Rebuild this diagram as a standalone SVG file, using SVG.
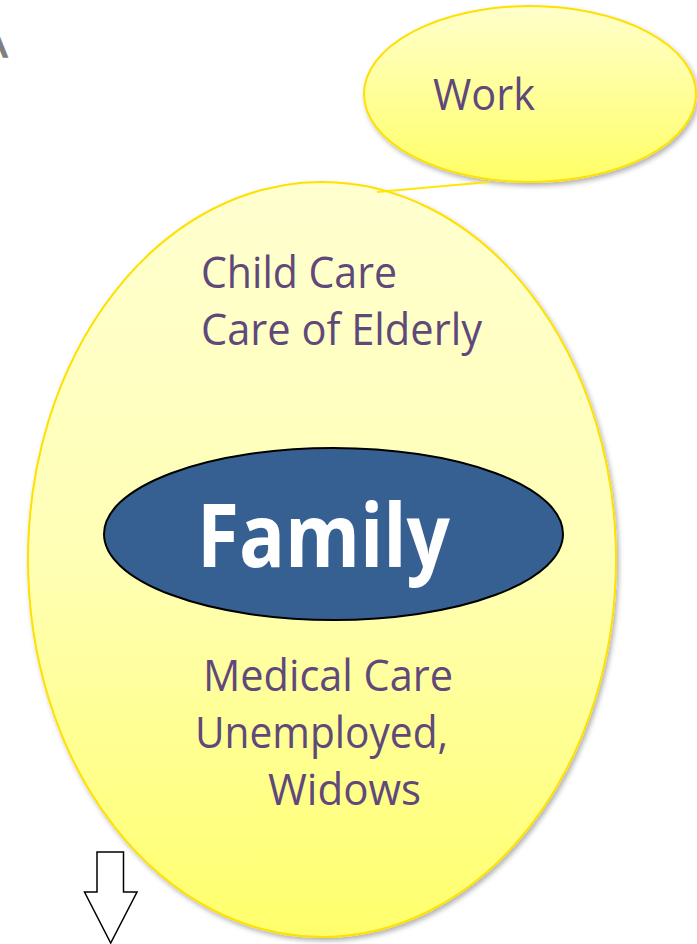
<svg xmlns="http://www.w3.org/2000/svg" width="697" height="944" viewBox="0 0 697 944">
  <style>
    .lbl { font-family: "Open Sans", "Liberation Sans", sans-serif; fill: #5F497A; font-size: 43px; }
    .big { stroke: #FFE000; stroke-width: 2; }
    .conn { stroke: #FFE800; stroke-width: 2; fill: none; }
  </style>
  <defs>
    <linearGradient id="gBig" x1="0" y1="0" x2="0" y2="1">
      <stop offset="0" stop-color="#FFFFD0"/>
      <stop offset="0.5" stop-color="#FFFFB5"/>
      <stop offset="1" stop-color="#FFFF6C"/>
    </linearGradient>
    <linearGradient id="gWork" x1="0" y1="0" x2="0" y2="1">
      <stop offset="0" stop-color="#FFFFCC"/>
      <stop offset="1" stop-color="#FFFF66"/>
    </linearGradient>
    <filter id="sh" x="-10%" y="-10%" width="125%" height="125%">
      <feDropShadow dx="2" dy="3" stdDeviation="2.5" flood-color="#000" flood-opacity="0.3"/>
    </filter>
  </defs>
  <rect width="697" height="944" fill="#FFFFFF"/>
  <text x="-20" y="57" font-family="Liberation Sans, sans-serif" font-size="41" fill="#7F7F7F" stroke="#7F7F7F" stroke-width="1.5">A</text>

  <g id="node-support">
    <ellipse cx="322" cy="559.5" rx="294" ry="377.5" fill="url(#gBig)" class="big" filter="url(#sh)"/>
    <text class="lbl" x="201" y="288" textLength="196" lengthAdjust="spacingAndGlyphs">Child Care</text>
    <text class="lbl" x="201" y="345" textLength="281" lengthAdjust="spacingAndGlyphs">Care of Elderly</text>
    <text class="lbl" x="203" y="691" textLength="250" lengthAdjust="spacingAndGlyphs">Medical Care</text>
    <text class="lbl" x="195" y="748" textLength="253" lengthAdjust="spacingAndGlyphs">Unemployed,</text>
    <text class="lbl" x="268" y="805" textLength="153" lengthAdjust="spacingAndGlyphs">Widows</text>
  </g>

  <g id="node-work">
    <ellipse cx="530" cy="94" rx="166" ry="88" fill="url(#gWork)" class="big" filter="url(#sh)"/>
    <text class="lbl" x="433" y="110" textLength="102" lengthAdjust="spacingAndGlyphs">Work</text>
  </g>

  <g id="node-family">
    <ellipse cx="333.5" cy="534" rx="229.5" ry="86" fill="#366092" stroke="#000" stroke-width="2"/>
    <text x="197" y="567" font-family="Open Sans, Liberation Sans, sans-serif" font-weight="bold" font-size="87" fill="#FFFFFF" textLength="253" lengthAdjust="spacingAndGlyphs">Family</text>
  </g>

  <g id="connectors">
    <line class="conn" x1="377" y1="192" x2="489" y2="182"/>
  </g>

  <g id="arrow-down">
    <polygon points="97,852 123.5,852 123.5,892 137,892 110.7,943 84.5,892 97,892" fill="#FFFFFF" stroke="#000" stroke-width="1.5"/>
  </g>
</svg>
